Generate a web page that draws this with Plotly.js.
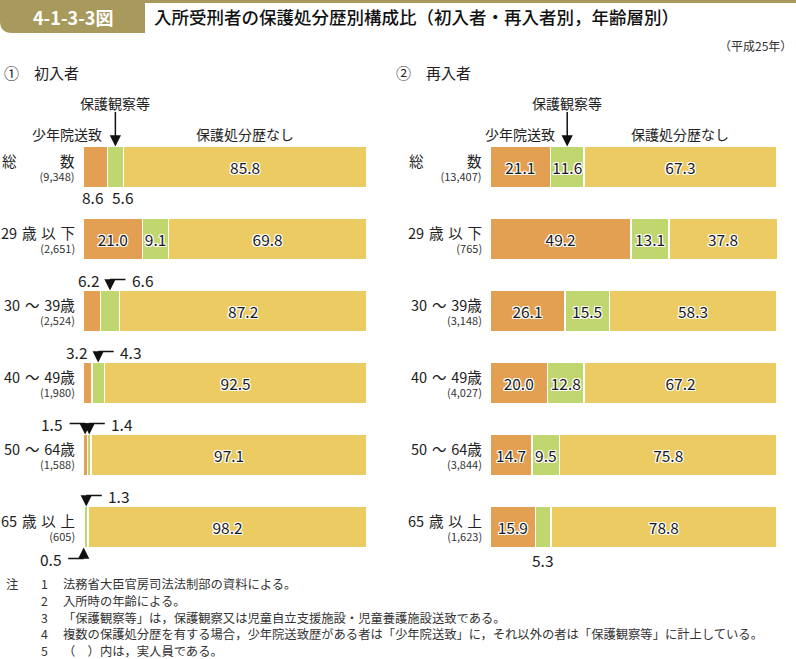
<!DOCTYPE html>
<html>
<head>
<meta charset="utf-8">
<script src="https://cdn.plot.ly/plotly-3.0.1.min.js"></script>
<style>html,body{margin:0;padding:0;background:#fff;}#chart{width:796px;height:659px;}</style>
</head>
<body>
<div id="chart"></div>
<script>
// ---------- data ----------
const categories = ["総　　　数", "29\u2004歳\u2004以\u2004下", "30\u2004～\u200439歳", "40\u2004～\u200449歳", "50\u2004～\u200464歳", "65\u2004歳\u2004以\u2004上"];
const firstCounts = ["9,348", "2,651", "2,524", "1,980", "1,588", "605"];
const repeatCounts = ["13,407", "765", "3,148", "4,027", "3,844", "1,623"];
const seriesNames = ["少年院送致", "保護観察等", "保護処分歴なし"];
const firstShonen = [8.6, 21.0, 6.2, 3.2, 1.5, 0.5];
const firstHogo = [5.6, 9.1, 6.6, 4.3, 1.4, 1.3];
const firstNashi = [85.8, 69.8, 87.2, 92.5, 97.1, 98.2];
const repeatShonen = [21.1, 49.2, 26.1, 20.0, 14.7, 15.9];
const repeatHogo = [11.6, 13.1, 15.5, 12.8, 9.5, 5.3];
const repeatNashi = [67.3, 37.8, 58.3, 67.2, 75.8, 78.8];
const notes = [
  "法務省大臣官房司法法制部の資料による。",
  "入所時の年齢による。",
  "「保護観察等」は，保護観察又は児童自立支援施設・児童養護施設送致である。",
  "複数の保護処分歴を有する場合，少年院送致歴がある者は「少年院送致」に，それ以外の者は「保護観察等」に計上している。",
  "（　）内は，実人員である。"
];

// ---------- style ----------
const W = 796, H = 659;
const F = "'Noto Sans CJK JP', 'Noto Sans', sans-serif";
const colors = ["#e4a052", "#c0d770", "#ebcb62"];
const outline = "1px 0 0 #fff, -1px 0 0 #fff, 0 1px 0 #fff, 0 -1px 0 #fff, 1px 1px 0 #fff, -1px -1px 0 #fff, 1px -1px 0 #fff, -1px 1px 0 #fff";
const px = v => v / W;
const py = v => 1 - v / H;
const rows = categories.map((_, i) => i);
const HALF = 20.5;
const XMAX = 100.2;

const panels = [
  {xa: "x", ya: "y", series: [firstShonen, firstHogo, firstNashi], counts: firstCounts, labelRight: 76, x0: 83, x100: 367},
  {xa: "x2", ya: "y2", series: [repeatShonen, repeatHogo, repeatNashi], counts: repeatCounts, labelRight: 483, x0: 490, x100: 777}
];

const traces = [];
panels.forEach((p, pi) => {
  p.series.forEach((vals, si) => {
    traces.push({
      type: "bar", orientation: "h",
      x: vals, y: rows, xaxis: p.xa, yaxis: p.ya,
      name: seriesNames[si], width: 0.57,
      marker: {color: colors[si], line: {color: "#ffffff", width: 1.5}},
      text: vals.map(v => v >= 9 ? v.toFixed(1) : ""),
      textposition: "inside", insidetextanchor: "middle", textangle: 0,
      constraintext: "none", cliponaxis: false,
      textfont: {family: F, size: 15.5, color: "#1a1a1a", shadow: outline},
      hoverinfo: "skip", showlegend: false
    });
  });
});

const annotations = [];
const txt = (o) => Object.assign({showarrow: false, xanchor: "center", font: {family: F, size: 15.5, color: "#222"}}, o);

// header
annotations.push(txt({xref: "paper", yref: "paper", x: px(73), y: py(17), xanchor: "center", yanchor: "middle",
  text: "<b>4-1-3-3図</b>", font: {family: F, size: 18, color: "#ffffff"}}));
annotations.push(txt({xref: "paper", yref: "paper", x: px(152), y: py(17), xanchor: "left", yanchor: "middle",
  text: "入所受刑者の保護処分歴別構成比（初入者・再入者別，年齢層別）", font: {family: F, size: 17.5, color: "#111", weight: 500}}));
annotations.push(txt({xref: "paper", yref: "paper", x: px(794), y: py(45), xanchor: "right", yanchor: "middle",
  text: "（平成25年）", font: {family: F, size: 12, color: "#333"}}));
annotations.push(txt({xref: "paper", yref: "paper", x: px(2), y: py(72), xanchor: "left", yanchor: "middle",
  text: "①　初入者", font: {family: F, size: 15, color: "#222"}}));
annotations.push(txt({xref: "paper", yref: "paper", x: px(394), y: py(72), xanchor: "left", yanchor: "middle",
  text: "②　再入者", font: {family: F, size: 15, color: "#222"}}));

// category labels (two lines in one text)
panels.forEach(p => {
  categories.forEach((c, i) => {
    annotations.push(txt({xref: "paper", yref: p.ya, x: px(p.labelRight), y: i, yshift: 0, xanchor: "right", yanchor: "middle",
      align: "right", borderpad: 0,
      text: "<span style='font-size:14.5px;fill:#222'>" + c + "</span><br>(" + p.counts[i] + ")",
      font: {family: F, size: 11, color: "#333"}}));
  });
});

// series headers over the total row
const seg = (p, si, i) => {
  let start = 0;
  for (let k = 0; k < si; k++) start += p.series[k][i];
  return {start: start, end: start + p.series[si][i], mid: start + p.series[si][i] / 2};
};
panels.forEach((p, pi) => {
  const g = seg(p, 1, 0), o = seg(p, 0, 0), n = seg(p, 2, 0);
  annotations.push(txt({xref: p.xa, yref: p.ya, x: g.mid, y: 0, yshift: 64, yanchor: "middle",
    text: seriesNames[1], font: {family: F, size: 14, color: "#222"}}));
  annotations.push({xref: p.xa, yref: p.ya, x: g.mid, y: 0, yshift: HALF, ax: 0, ay: -36, text: "",
    showarrow: true, arrowhead: 2, arrowsize: 1.5, arrowwidth: 1.5, arrowcolor: "#111", standoff: 0, startstandoff: 0});
  if (pi === 0) {
    annotations.push(txt({xref: "paper", yref: p.ya, x: px(67), y: 0, yshift: 33, xanchor: "center", yanchor: "middle",
      text: seriesNames[0], font: {family: F, size: 14, color: "#222"}}));
  } else {
    annotations.push(txt({xref: p.xa, yref: p.ya, x: o.mid, y: 0, yshift: 33, yanchor: "middle",
      text: seriesNames[0], font: {family: F, size: 14, color: "#222"}}));
  }
  annotations.push(txt({xref: p.xa, yref: p.ya, x: n.mid, y: 0, yshift: 33, yanchor: "middle",
    text: seriesNames[2], font: {family: F, size: 14, color: "#222"}}));
});

// outside value labels
function plain(p, si, i, opts) {
  const s = seg(p, si, i);
  const v = p.series[si][i].toFixed(1);
  let x = s.mid, xanchor = "center";
  if (opts.anchor === "endRight") { x = s.end; xanchor = "right"; }
  if (opts.anchor === "startLeft") { x = s.start; xanchor = "left"; }
  annotations.push(txt({xref: p.xa, yref: p.ya, x: x, y: i, xshift: opts.xshift || 0, yshift: opts.yshift,
    xanchor: xanchor, yanchor: "middle", text: v}));
}
function elbow(p, si, i, side, dir) {
  const s = seg(p, si, i);
  const v = p.series[si][i].toFixed(1);
  const ys = side === "top" ? HALF : -HALF;
  const drop = 11;
  const ly = side === "top" ? ys + drop : ys - drop;
  annotations.push({xref: p.xa, yref: p.ya, x: s.mid, y: i, yshift: ys, ax: 0, ay: side === "top" ? -drop : drop,
    text: "", showarrow: true, arrowhead: 2, arrowsize: 1.5, arrowwidth: 1.5, arrowcolor: "#111", standoff: 0, startstandoff: 0});
  annotations.push({xref: p.xa, yref: p.ya, x: s.mid, y: i, yshift: ly, ax: dir * 17, ay: 0,
    text: "", showarrow: true, arrowhead: 0, arrowwidth: 1.5, arrowcolor: "#111", standoff: 0, startstandoff: 0});
  annotations.push(txt({xref: p.xa, yref: p.ya, x: s.mid, y: i, xshift: dir * 20, yshift: ly,
    xanchor: dir > 0 ? "left" : "right", yanchor: "middle", text: v}));
}
const L = panels[0], R = panels[1];
plain(L, 0, 0, {anchor: "endRight", yshift: -30, xshift: -1});
plain(L, 1, 0, {anchor: "startLeft", yshift: -30, xshift: 3});
plain(L, 0, 2, {anchor: "endRight", yshift: 31, xshift: 1});
elbow(L, 1, 2, "top", 1);
plain(L, 0, 3, {anchor: "endRight", yshift: 31, xshift: -2});
elbow(L, 1, 3, "top", 1);
elbow(L, 0, 4, "top", -1);
elbow(L, 1, 4, "top", 1);
elbow(L, 1, 5, "top", 1);
elbow(L, 0, 5, "bottom", -1);
plain(R, 1, 5, {yshift: -33});

// notes
annotations.push(txt({xref: "paper", yref: "paper", x: px(4), y: py(584), xanchor: "left", yanchor: "middle",
  text: "注", font: {family: F, size: 12.3, color: "#333"}}));
notes.forEach((n, k) => {
  const y = py(584 + k * 16.8);
  annotations.push(txt({xref: "paper", yref: "paper", x: px(44), y: y, xanchor: "center", yanchor: "middle",
    text: String(k + 1), font: {family: F, size: 12.3, color: "#333"}}));
  annotations.push(txt({xref: "paper", yref: "paper", x: px(61), y: y, xanchor: "left", yanchor: "middle",
    text: n, font: {family: F, size: 12.3, color: "#333"}}));
});

const gold = "#a79a5c";
const r = 12;
const shapes = [
  {type: "rect", xref: "paper", yref: "paper", x0: 0, x1: 1, y0: 1, y1: py(3), fillcolor: gold, line: {width: 0}, layer: "below"},
  {type: "path", xref: "paper", yref: "paper", fillcolor: gold, line: {width: 0}, layer: "below",
   path: `M0,1 L${px(145)},1 L${px(145)},${py(33)} L${px(r)},${py(33)} Q0,${py(33)} 0,${py(33 - r)} Z`}
];

const axX = (p, anchor) => ({
  domain: [p.x0 / W, (p.x0 + (p.x100 - p.x0) * XMAX / 100) / W],
  range: [0, XMAX], visible: false, fixedrange: true, anchor: anchor});
const axY = (anchor) => ({domain: [96 / H, 528 / H], range: [5.5, -0.5], visible: false, fixedrange: true, anchor: anchor});

const layout = {
  width: W, height: H,
  margin: {l: 0, r: 0, t: 0, b: 0},
  paper_bgcolor: "#ffffff", plot_bgcolor: "rgba(0,0,0,0)",
  barmode: "stack", showlegend: false,
  font: {family: F, color: "#222"},
  xaxis: axX(panels[0], "y"),
  yaxis: axY("x"),
  xaxis2: axX(panels[1], "y2"),
  yaxis2: axY("x2"),
  annotations: annotations,
  shapes: shapes
};

Plotly.newPlot("chart", traces, layout, {staticPlot: true, displayModeBar: false});
</script>
</body>
</html>
